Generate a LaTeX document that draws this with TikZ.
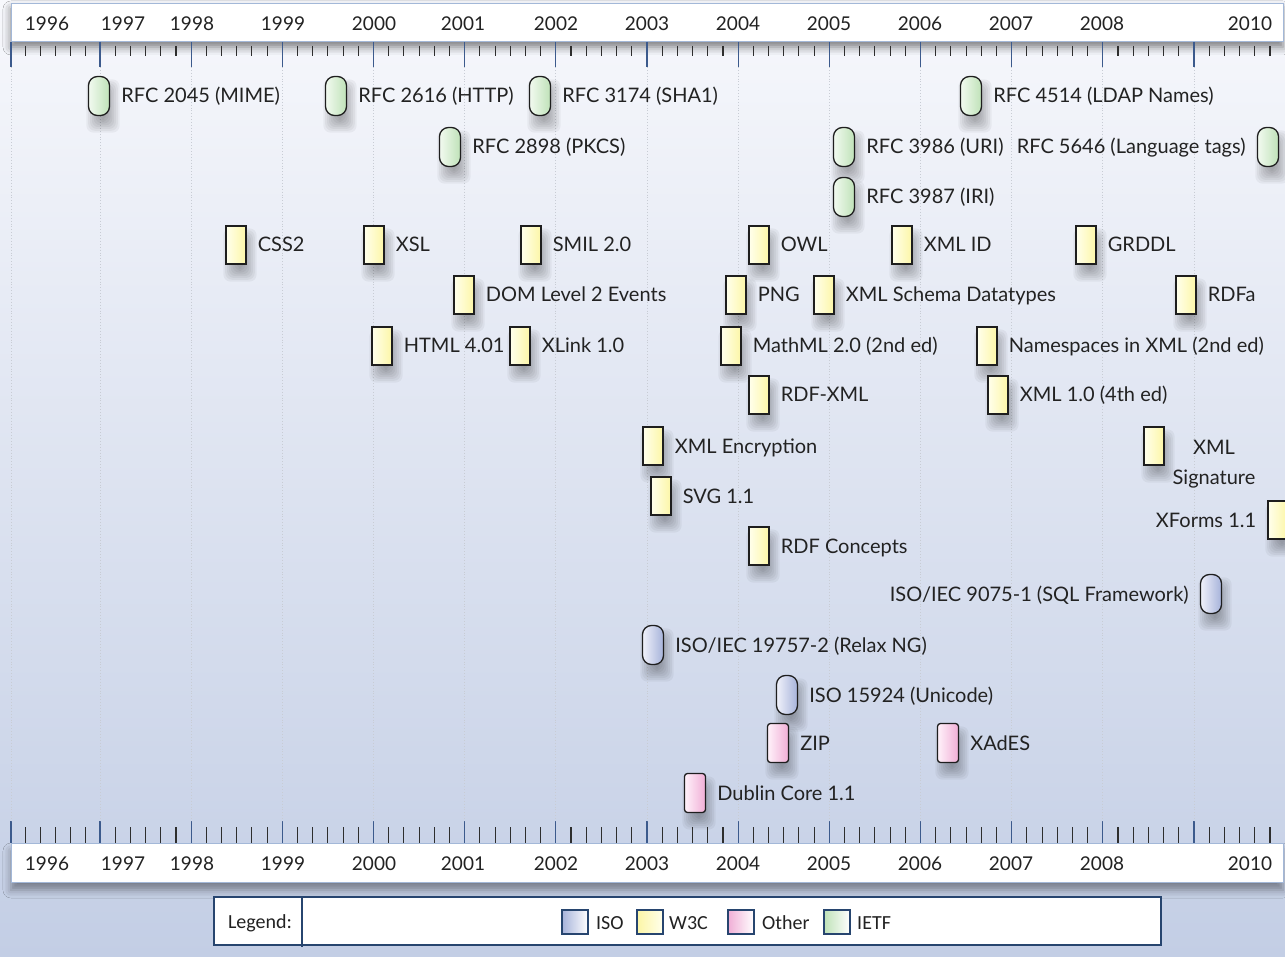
\documentclass[tikz,border=0pt]{standalone}
\usepackage{fontspec}
\setmainfont{Lato}
\newfontfamily\legfont{Carlito}
\usetikzlibrary{shadows.blur}
\definecolor{bgtop}{HTML}{F7F8FC}
\definecolor{bgbot}{HTML}{C3CEE5}
\definecolor{panelb}{HTML}{A3B8D8}
\definecolor{majt}{HTML}{3C5A8C}
\definecolor{mint}{HTML}{2E2E2E}
\definecolor{dotc}{HTML}{C8CCD4}
\definecolor{mkborder}{HTML}{1E1E1E}
\definecolor{txt}{HTML}{222222}
\definecolor{ietfL}{HTML}{F2FAF0}
\definecolor{ietfR}{HTML}{BFE2B8}
\definecolor{w3cL}{HTML}{FFFFEC}
\definecolor{w3cR}{HTML}{FCF6A6}
\definecolor{isoL}{HTML}{F0F2FA}
\definecolor{isoR}{HTML}{A6B2DA}
\definecolor{othL}{HTML}{FFF2FA}
\definecolor{othR}{HTML}{F0AED6}
\definecolor{legb}{HTML}{27456F}
\tikzset{
  mk/.style={draw=mkborder, line width=1.3pt, minimum width=21pt, minimum height=39pt, inner sep=0pt},
  ietf/.style={mk, rounded corners=9pt, left color=ietfL, right color=ietfR},
  w3c/.style={mk, minimum width=20pt, minimum height=38pt, left color=w3cL, right color=w3cR},
  iso/.style={mk, rounded corners=9pt, left color=isoL, right color=isoR},
  oth/.style={mk, rounded corners=3pt, left color=othL, right color=othR},
  shd/.style={black, opacity=0.042, rounded corners=7pt},
  lbl/.style={inner sep=0pt, text=txt, font=\fontsize{20}{30}\selectfont},
  yr/.style={inner sep=0pt, text=txt, font=\fontsize{19}{24}\selectfont, anchor=base},
  panel/.style={draw=panelb, line width=1pt, fill=white},
  sw/.style={draw=legb, line width=1.1pt, minimum width=26pt, minimum height=24pt, inner sep=0pt},
  legtxt/.style={inner sep=0pt, text=txt, font=\legfont\fontsize{20}{24}\selectfont},
}
\newcommand{\mkshadow}[2]{\foreach \s in {0,...,7}{
  \fill[shd] ({#1+4-4-1.8*\s},{#2+10-14-1.8*\s}) rectangle ({#1+4+4+1.8*\s},{#2+10+14+1.8*\s});}}
\newcommand{\stdmark}[5]{\mkshadow{#2}{#3}\node[#4] (#1) at (#2,#3) {};
  \node[lbl, anchor=base west] (#1-l) at ([xshift=11pt,yshift=-7pt]#1.east) {#5};}
\newcommand{\stdmarkL}[5]{\mkshadow{#2}{#3}\node[#4] (#1) at (#2,#3) {};
  \node[lbl, anchor=base east] (#1-l) at ([xshift=-11pt,yshift=-7pt]#1.west) {#5};}
\begin{document}
\begin{tikzpicture}[x=1pt,y=-1pt]
\useasboundingbox (0,0) rectangle (1285,957);
\shade[top color=bgtop, bottom color=bgbot] (0,0) rectangle (1285,957);
% panels
\path[panel, blur shadow={shadow xshift=0pt, shadow yshift=-5pt, shadow blur radius=8pt, shadow opacity=50}] (11,4) rectangle (1283,42);
\path[panel, blur shadow={shadow xshift=0pt, shadow yshift=-8pt, shadow blur radius=8pt, shadow opacity=40}] (11,843) rectangle (1283,882);
\path[panel] (11,4) rectangle (1283,42);
\path[panel] (11,843) rectangle (1283,882);
% ticks and grid
\foreach \a/\b in {11/100,100/191.2,191.2/282.3,282.3/373.5,373.5/464.7,464.7/555.8,555.8/647,647/738.2,738.2/829.3,829.3/920.5,920.5/1011.7,1011.7/1102.8,1102.8/1194,1194/1285.2}{
  \draw[majt, line width=1.3pt] (\a,42) -- (\a,67);
  \draw[majt, line width=1.3pt] (\a,821) -- (\a,843);
  \draw[dotc, line width=0.9pt, dotted] (\a,67) -- (\a,821);
  \foreach \k in {1,...,5}{
    \pgfmathsetmacro\xx{\a+(\b-\a)*\k/6}
    \draw[mint, line width=1.1pt] (\xx,46) -- (\xx,56);
    \draw[mint, line width=1.1pt] (\xx,827) -- (\xx,843);
  }
}
% year labels
\foreach \yy/\xx in {1996/47,1997/123,1998/192,1999/283,2000/374,2001/463,2002/556,2003/647,2004/738,2005/829,2006/920,2007/1011,2008/1102,2010/1250}{
  \node[yr] (t\yy) at (\xx,31) {\yy};
  \node[yr] (b\yy) at (\xx,870) {\yy};
}
% IETF
\stdmark{m2045}{99}{96}{ietf}{RFC 2045 (MIME)}
\stdmark{m2616}{336}{96}{ietf}{RFC 2616 (HTTP)}
\stdmark{m3174}{540}{96}{ietf}{RFC 3174 (SHA1)}
\stdmark{m4514}{971}{96}{ietf}{RFC 4514 (LDAP Names)}
\stdmark{m2898}{450}{147}{ietf}{RFC 2898 (PKCS)}
\stdmark{m3986}{844}{147}{ietf}{RFC 3986 (URI)}
\stdmarkL{m5646}{1268}{147}{ietf}{RFC 5646 (Language tags)}
\stdmark{m3987}{844}{197}{ietf}{RFC 3987 (IRI)}
% W3C
\stdmark{css2}{236}{245}{w3c}{CSS2}
\stdmark{xsl}{374}{245}{w3c}{XSL}
\stdmark{smil}{531}{245}{w3c}{SMIL 2.0}
\stdmark{owl}{759}{245}{w3c}{OWL}
\stdmark{xmlid}{902}{245}{w3c}{XML ID}
\stdmark{grddl}{1086}{245}{w3c}{GRDDL}
\stdmark{dom}{464}{295}{w3c}{DOM Level 2 Events}
\stdmark{png}{736}{295}{w3c}{PNG}
\stdmark{xsd}{824}{295}{w3c}{XML Schema Datatypes}
\stdmark{rdfa}{1186}{295}{w3c}{RDFa}
\stdmark{html}{382}{346}{w3c}{HTML 4.01}
\stdmark{xlink}{520}{346}{w3c}{XLink 1.0}
\stdmark{mathml}{731}{346}{w3c}{MathML 2.0 (2nd ed)}
\stdmark{ns}{987}{346}{w3c}{Namespaces in XML (2nd ed)}
\stdmark{rdfxml}{759}{395}{w3c}{RDF-XML}
\stdmark{xmlten}{998}{395}{w3c}{XML 1.0 (4th ed)}
\stdmark{xenc}{653}{446}{w3c}{XML Encryption}
\mkshadow{1154}{446}
\node[w3c] (xsig) at (1154,446) {};
\node[lbl, anchor=base] (xsig-l) at (1214,454) {XML};
\node[lbl, anchor=base] (xsig-l2) at (1214,484) {Signature};
\stdmark{svg}{661}{496}{w3c}{SVG 1.1}
\stdmarkL{xforms}{1278}{520}{w3c}{XForms 1.1}
\stdmark{rdfc}{759}{546}{w3c}{RDF Concepts}
% ISO
\stdmarkL{sql}{1211}{594}{iso}{ISO/IEC 9075-1 (SQL Framework)}
\stdmark{relax}{653}{645}{iso}{ISO/IEC 19757-2 (Relax NG)}
\stdmark{unicode}{787}{695}{iso}{ISO 15924 (Unicode)}
% Other
\stdmark{zip}{778}{743}{oth}{ZIP}
\stdmark{xades}{948}{743}{oth}{XAdES}
\stdmark{dc}{695}{793}{oth}{Dublin Core 1.1}
% legend
\node[draw=legb, line width=1.3pt, fill=white, minimum width=947pt, minimum height=48pt, inner sep=0pt] (legend) at (687.5,921) {};
\coordinate (divtop) at (302,897);
\coordinate (divbot) at (302,947);
\draw[legb, line width=1.1pt] (divtop) -- (divbot);
\node[legtxt] (legl) at (260,923) {Legend:};
\node[sw, left color=isoR, right color=white] (swiso) at (575,922) {};
\node[legtxt, anchor=west] (swiso-l) at (596,923) {ISO};
\node[sw, left color=w3cR, right color=w3cL] (sww3c) at (650,922) {};
\node[legtxt, anchor=west] (sww3c-l) at (669,923) {W3C};
\node[sw, left color=othR, right color=white] (swoth) at (741,922) {};
\node[legtxt, anchor=west] (swoth-l) at (762,923) {Other};
\node[sw, left color=ietfR, right color=white] (swietf) at (837,922) {};
\node[legtxt, anchor=west] (swietf-l) at (857,923) {IETF};
\end{tikzpicture}
\end{document}
